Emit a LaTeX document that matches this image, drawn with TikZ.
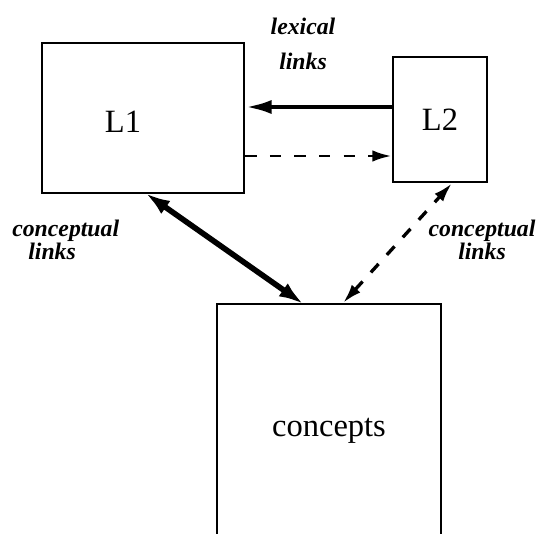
\documentclass[tikz,border=0pt]{standalone}
\usepackage{fontspec}
\setmainfont{Liberation Serif}
\usetikzlibrary{arrows.meta,positioning}

\begin{document}
\begin{tikzpicture}[
  box/.style={draw, line width=1.4pt, inner sep=0pt},
  lbl/.style={inner sep=0pt, font=\bfseries\itshape},
  big/.style={font=\fontsize{18.5}{20}\selectfont},
  lexarrow/.style={-{Latex[length=15pt,width=8pt]}, line width=2.5pt},
  dasharrow/.style={-{Latex[length=11pt,width=6.5pt]}, line width=1.7pt, dash pattern=on 6.5pt off 7.5pt},
  dashboth/.style={{Latex[length=11pt,width=6.5pt]}-{Latex[length=11pt,width=6.5pt]}, line width=1.9pt, dash pattern=on 6.5pt off 7pt},
  conarrow/.style={{Latex[length=14pt,width=9pt]}-{Latex[length=14pt,width=9pt]}, line width=3.2pt, shorten <=-1pt, shorten >=-1pt}]
 \useasboundingbox (0,0) rectangle (10.78,-10.66);
 \clip (0,0) rectangle (10.78,-10.66);
 \node[box, minimum width=4.04cm, minimum height=3cm] (L1) at (2.86,-2.36) {};
 \node[big] at ([xshift=-0.4cm,yshift=-0.08cm]L1.center) {L1};
 \node[box, big, minimum width=1.88cm, minimum height=2.5cm] (L2) at (8.8,-2.39) {L2};
 \node[box, big, minimum width=4.48cm, minimum height=5.08cm, anchor=north] (con) at (6.58,-6.06) {concepts};
 \node[lbl, align=center, font=\fontsize{13.5}{20}\selectfont\bfseries\itshape] (lexlbl) at (6.06,-0.88) {lexical\\links};
 \node[lbl, align=left, anchor=north west, font=\fontsize{13.5}{13}\selectfont\bfseries\itshape] (conlblA) at (0.24,-4.4) {conceptual\\\hspace*{0.32cm}links};
 \node[lbl, align=center, anchor=north, font=\fontsize{13.5}{13}\selectfont\bfseries\itshape] (conlblB) at (9.64,-4.4) {conceptual\\links};
 \draw[lexarrow] ([yshift=0.25cm]L2.west) coordinate (lx) -- (lx -| L1.east);
 \draw[dasharrow] ([yshift=-0.76cm]L1.east) coordinate (dx) -- (dx -| L2.west);
 \draw[conarrow] ([xshift=0.08cm]L1.south) -- ([xshift=-0.54cm]con.north);
 \draw[dashboth] ([xshift=0.28cm]con.north) -- ([xshift=0.24cm]L2.south);
\end{tikzpicture}
\end{document}
